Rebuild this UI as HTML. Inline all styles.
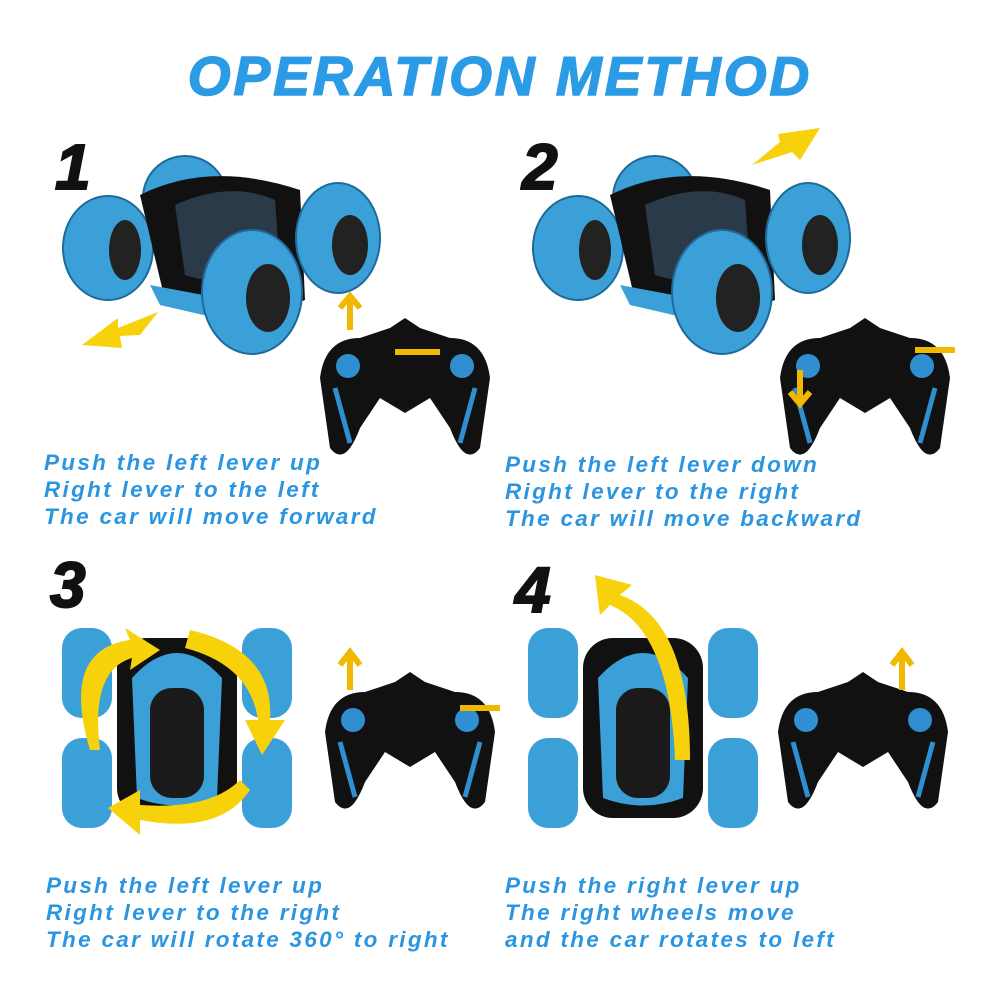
<!DOCTYPE html>
<html><head><style>
body{margin:0;width:1000px;height:1000px;background:#fff;position:relative;overflow:hidden;font-family:"Liberation Sans",sans-serif}
.t{position:absolute;color:#2c95e0;font-weight:bold;font-style:italic;font-size:22.5px;line-height:27px;letter-spacing:2.3px;white-space:nowrap}
.n{position:absolute;font-weight:900;font-style:italic;font-size:64px;color:#111;font-family:"Liberation Sans",sans-serif;-webkit-text-stroke:2px #111}
.title{position:absolute;left:0;width:1000px;top:44px;text-align:center;font-size:55px;font-weight:900;font-style:italic;color:#2b9be6;letter-spacing:3px;-webkit-text-stroke:1.5px #2b9be6}
svg{position:absolute;left:0;top:0}
</style></head><body>
<div class="title">OPERATION METHOD</div>
<div class="n" style="left:55px;top:130px">1</div>
<div class="n" style="left:522px;top:130px">2</div>
<div class="n" style="left:50px;top:548px">3</div>
<div class="n" style="left:515px;top:553px">4</div>
<svg width="1000" height="1000">
<defs>
<g id="car">
<ellipse cx="185" cy="198" rx="42" ry="42" fill="#3ba0d8" stroke="#1d6a9a" stroke-width="2"/>
<ellipse cx="108" cy="248" rx="45" ry="52" fill="#3ba0d8" stroke="#1d6a9a" stroke-width="2"/>
<ellipse cx="125" cy="250" rx="16" ry="30" fill="#222"/>
<path d="M140 195 Q210 160 300 190 L305 300 Q240 325 165 300 Z" fill="#111"/>
<path d="M175 205 Q230 180 275 200 L280 270 Q230 290 185 275 Z" fill="#2a3a48"/>
<path d="M150 285 L230 300 L225 320 L160 305 Z" fill="#3ba0d8"/>
<ellipse cx="338" cy="238" rx="42" ry="55" fill="#3ba0d8" stroke="#1d6a9a" stroke-width="2"/>
<ellipse cx="350" cy="245" rx="18" ry="30" fill="#222"/>
<ellipse cx="252" cy="292" rx="50" ry="62" fill="#3ba0d8" stroke="#1d6a9a" stroke-width="2"/>
<ellipse cx="268" cy="298" rx="22" ry="34" fill="#222"/>
</g>
<g id="ctrl">
<path d="M0 60 Q5 20 40 20 L70 10 L85 0 L100 10 L130 20 Q165 20 170 60 L160 130 Q145 150 130 110 L110 80 L85 95 L60 80 L40 110 Q25 150 10 130 Z" fill="#111"/>
<circle cx="28" cy="48" r="12" fill="#2f8fd0"/><circle cx="142" cy="48" r="12" fill="#2f8fd0"/>
<path d="M15 70 L30 125 M155 70 L140 125" stroke="#2f8fd0" stroke-width="5"/>
</g>
<g id="top">
<rect x="0" y="0" width="50" height="90" rx="20" fill="#3ba0d8"/>
<rect x="0" y="110" width="50" height="90" rx="20" fill="#3ba0d8"/>
<rect x="180" y="0" width="50" height="90" rx="20" fill="#3ba0d8"/>
<rect x="180" y="110" width="50" height="90" rx="20" fill="#3ba0d8"/>
<rect x="55" y="10" width="120" height="180" rx="30" fill="#111"/>
<path d="M70 50 Q115 0 160 50 L155 170 Q115 185 75 170 Z" fill="#3ba0d8"/>
<rect x="88" y="60" width="54" height="110" rx="22" fill="#1a1a1a"/>
</g>
</defs>
<use href="#car"/>
<use href="#car" transform="translate(470,0)"/>
<path d="M82 345 L118 318 L118 328 L158 312 L140 335 L120 336 L122 348 Z" fill="#f7d20a"/>
<path d="M752 165 L780 142 L778 134 L820 128 L800 160 L792 152 Z" fill="#f7d20a"/>
<use href="#ctrl" transform="translate(320,318)"/>
<use href="#ctrl" transform="translate(780,318)"/>
<path d="M350 330 L350 300 M340 308 L350 296 L360 308" stroke="#f0b800" stroke-width="6" fill="none"/>
<path d="M395 352 L440 352" stroke="#f0b800" stroke-width="6"/>
<path d="M800 370 L800 400 M790 392 L800 404 L810 392" stroke="#f0b800" stroke-width="6" fill="none"/>
<path d="M915 350 L955 350" stroke="#f0b800" stroke-width="6"/>
<use href="#top" transform="translate(62,628)"/>
<use href="#top" transform="translate(528,628)"/>
<path d="M90 750 Q60 650 130 640 L125 628 L160 650 L130 670 L132 658 Q90 670 100 750 Z" fill="#f7d20a"/>
<path d="M190 630 Q275 650 270 720 L285 720 L262 755 L245 720 L258 720 Q250 665 185 648 Z" fill="#f7d20a"/>
<path d="M250 790 Q220 835 140 820 L140 835 L108 808 L140 790 L140 805 Q210 810 240 780 Z" fill="#f7d20a"/>
<path d="M690 760 Q690 620 620 595 L632 585 L595 575 L600 615 L610 605 Q670 630 675 760 Z" fill="#f7d20a"/>
<use href="#ctrl" transform="translate(325,672)"/>
<use href="#ctrl" transform="translate(778,672)"/>
<path d="M350 690 L350 655 M340 665 L350 652 L360 665" stroke="#f0b800" stroke-width="6" fill="none"/>
<path d="M460 708 L500 708" stroke="#f0b800" stroke-width="6"/>
<path d="M902 690 L902 655 M892 665 L902 652 L912 665" stroke="#f0b800" stroke-width="6" fill="none"/>
</svg>
<div class="t" style="left:44px;top:449px">Push the left lever up<br>Right lever to the left<br>The car will move forward</div>
<div class="t" style="left:505px;top:451px">Push the left lever down<br>Right lever to the right<br>The car will move backward</div>
<div class="t" style="left:46px;top:872px">Push the left lever up<br>Right lever to the right<br>The car will rotate 360° to right</div>
<div class="t" style="left:505px;top:872px">Push the right lever up<br>The right wheels move<br>and the car rotates to left</div>
</body></html>
